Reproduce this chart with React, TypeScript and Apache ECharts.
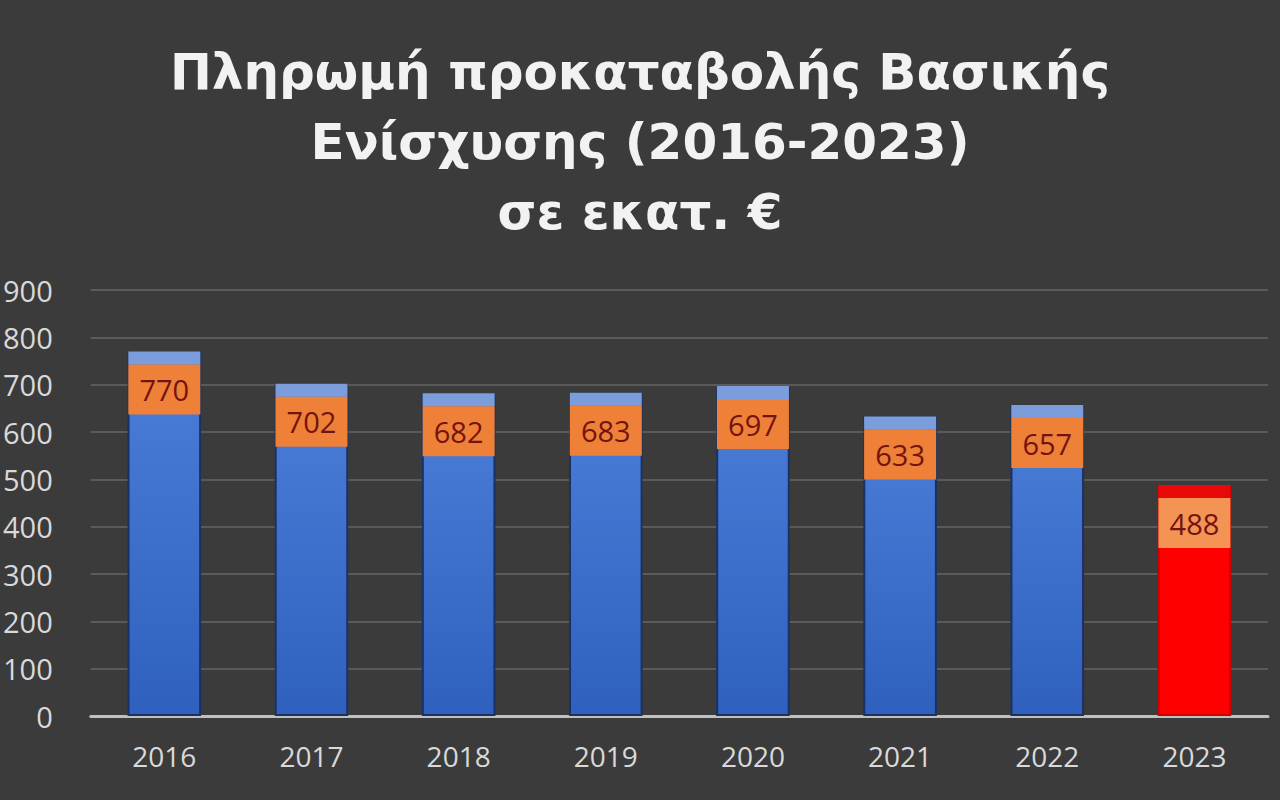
import React, { useEffect, useRef } from "react";
import * as echarts from "echarts";

const titleLines = ["Πληρωμή προκαταβολής Βασικής", "Ενίσχυσης (2016-2023)", "σε εκατ. €"];
const years = ["2016", "2017", "2018", "2019", "2020", "2021", "2022", "2023"];
const values = [770, 702, 682, 683, 697, 633, 657, 488];
const highlightYear = "2023";
const yTicks = { min: 0, max: 900, interval: 100 };

export default function App() {
  const ref = useRef<HTMLDivElement>(null);
  useEffect(() => {
    document.body.style.margin = "0";
    const chart = echarts.init(ref.current!, null, { renderer: "svg" });
    const barW = 72;
    const blueFill = new echarts.graphic.LinearGradient(0, 0, 0, 1, [
      { offset: 0, color: "#4b7fd9" },
      { offset: 1, color: "#2f60be" },
    ]);
    const data = years.map((y, i) => {
      const hl = y === highlightYear;
      return {
        value: values[i],
        itemStyle: hl
          ? { color: "#ff0000", borderColor: "#c80000", borderWidth: 2 }
          : { color: blueFill, borderColor: "#1a3262", borderWidth: 2 },
        label: {
          rich: {
            s: { width: barW, height: 13, backgroundColor: hl ? "#e80808" : "#7c9ddb" },
            v: {
              width: barW,
              height: 50,
              lineHeight: 50,
              align: "center",
              backgroundColor: hl ? "#f39455" : "#ee8038",
              color: "#741410",
              fontSize: 29,
              fontFamily: "Open Sans",
            },
          },
        },
      };
    });
    chart.setOption({
      animation: false,
      backgroundColor: "#3b3b3b",
      title: {
        text: titleLines.join("\n"),
        left: "center",
        top: 32,
        textStyle: {
          color: "#f2f2f2",
          fontSize: 50,
          fontWeight: "bold",
          fontFamily: "DejaVu Sans",
          lineHeight: 70,
        },
      },
      grid: { left: 88, right: 12, top: 290, bottom: 84 },
      xAxis: {
        type: "category",
        data: years,
        axisLine: { lineStyle: { color: "#c0c0c0", width: 3 } },
        axisTick: { show: false },
        axisLabel: { color: "#d9d9d9", fontSize: 28, fontFamily: "Open Sans", margin: 26 },
      },
      yAxis: {
        type: "value",
        min: yTicks.min,
        max: yTicks.max,
        interval: yTicks.interval,
        axisLine: { show: false },
        axisTick: { show: false },
        axisLabel: { color: "#d9d9d9", fontSize: 29, fontFamily: "Open Sans", margin: 38 },
        splitLine: { lineStyle: { color: "#5a5a5a", width: 2 } },
      },
      series: [
        {
          type: "bar",
          data,
          barWidth: "50%",
          label: {
            show: true,
            position: "insideTop",
            distance: 0,
            formatter: (p: any) => `{s| }\n{v|${p.value}}`,
          },
        },
      ],
    });
    return () => chart.dispose();
  }, []);
  return <div ref={ref} style={{ width: 1280, height: 800 }} />;
}
